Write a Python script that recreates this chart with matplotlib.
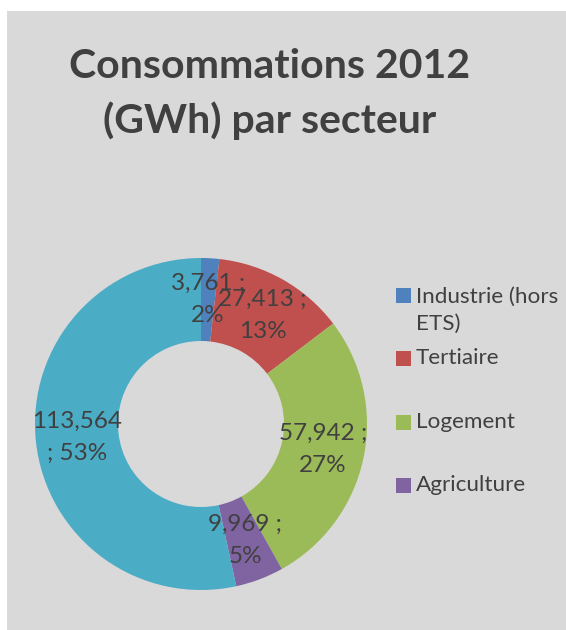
import matplotlib
matplotlib.use("Agg")
import matplotlib.pyplot as plt
from matplotlib.patches import Rectangle

# Energy consumption by sector, 2012 (GWh)
sectors = ["Industrie (hors\nETS)", "Tertiaire", "Logement", "Agriculture", "Transport"]
values = [3761, 27413, 57942, 9969, 113564]
colors = ["#4F81BD", "#C0504D", "#9BBB59", "#8064A2", "#4BACC6"]
title = "Consommations 2012\n(GWh) par secteur"

W, H = 566, 630
bg = "#D9D9D9"
txt = "#404040"
font = "Lato"

fig = plt.figure(figsize=(W / 100, H / 100), dpi=100)
fig.patch.set_facecolor("white")
# grey chart area
fig.add_artist(Rectangle((7 / W, 0), 1 - 7 / W, 1 - 11 / H, transform=fig.transFigure,
                         facecolor=bg, edgecolor="none", zorder=-10))

fig.text(270 / W, 1 - 94 / H, title, ha="center", va="center",
         fontsize=29.5, fontweight="bold", color=txt, family=font, linespacing=1.5)

cx, cy, r = 201, 424, 166
ax = fig.add_axes([(cx - r) / W, (H - cy - r) / H, 2 * r / W, 2 * r / H])

total = sum(values)

wedges, texts, autotexts = ax.pie(
    values, colors=colors, startangle=90, counterclock=False, radius=1,
    wedgeprops=dict(width=0.5, edgecolor="none"),
    autopct=lambda p: "", pctdistance=0.75, frame=True,
)
ax.axis("off")
ax.set_xlim(-1, 1)
ax.set_ylim(-1, 1)
for t, v in zip(autotexts, values):
    num = f"{v:,}"
    pct = f"{100 * v / total:.0f}%"
    # long numbers push the separator onto the second line
    label = f"{num}\n; {pct}" if len(num) > 6 else f"{num} ;\n{pct}"
    t.set_text(label)
    t.set_fontsize(17.5)
    t.set_color(txt)
    t.set_family(font)
    t.set_linespacing(1.65)

# Legend: the chart area only has room for the first four entries
leg_fs = 16.2
line_gap = 29
first_line_rows = [296, 358, 422, 485]
for name, col, y in zip(sectors[:4], colors[:4], first_line_rows):
    n = name.count("\n") + 1
    fig.add_artist(Rectangle((396 / W, (H - y - 7.5) / H), 15 / W, 15 / H,
                             transform=fig.transFigure, facecolor=col, edgecolor="none"))
    yc = y + (n - 1) * line_gap / 2
    fig.text(416 / W, (H - yc) / H, name, ha="left", va="center",
             fontsize=leg_fs, color=txt, family=font, linespacing=1.45)

fig.savefig("out.png", dpi=100, facecolor=fig.get_facecolor())
